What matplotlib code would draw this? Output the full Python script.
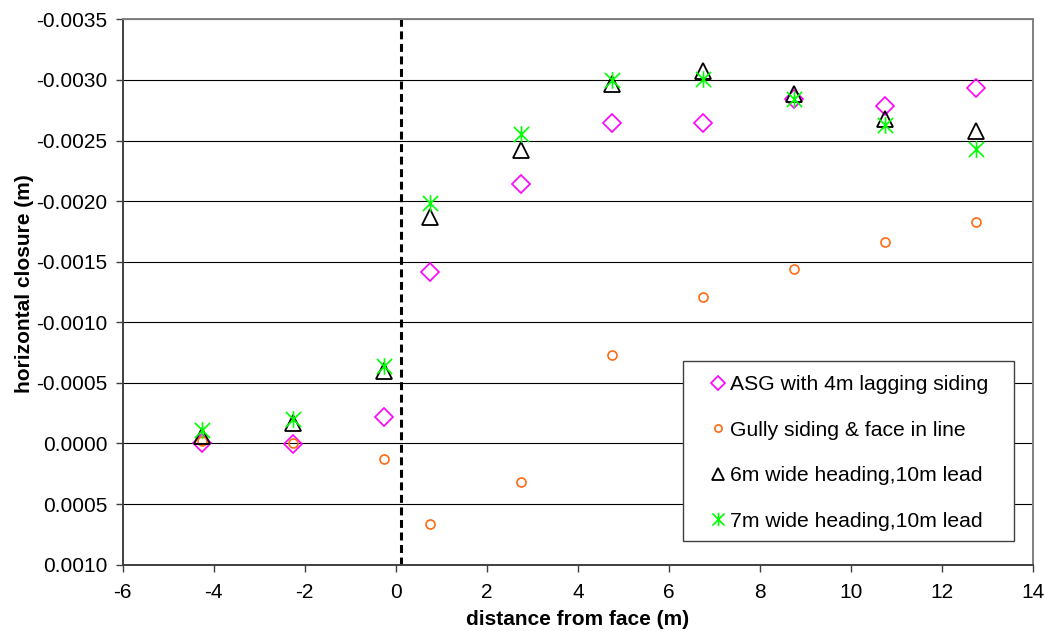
import numpy as np
import matplotlib
matplotlib.use("Agg")
import matplotlib.pyplot as plt
from matplotlib.path import Path
from matplotlib.patches import Rectangle

plt.rcParams['font.family'] = ['Liberation Sans', 'DejaVu Sans']

# distance from face (m) for every measuring station
distance = [-4.25, -2.25, -0.25, 0.75, 2.75, 4.75, 6.75, 8.75, 10.75, 12.75]

# horizontal closure (m) for each layout
asg_lagging = [0.0000, 0.000006, -0.00022, -0.001417, -0.002144,
               -0.002644, -0.002644, -0.00284, -0.002785, -0.00293]
gully_inline = [-0.00002, 0.0000, 0.000125, 0.000664, 0.000317,
                -0.000733, -0.001212, -0.001443, -0.00166, -0.001825]
wide6_lead10 = [-0.000065, -0.00017, -0.000596, -0.001868, -0.002424,
                -0.00297, -0.00307, -0.002887, -0.002675, -0.002578]
wide7_lead10 = [-0.000115, -0.000204, -0.000638, -0.001987, -0.00255,
                -0.002999, -0.003005, -0.00284, -0.002628, -0.002427]

series_labels = ["ASG with 4m lagging siding",
                 "Gully siding & face in line",
                 "6m wide heading,10m lead",
                 "7m wide heading,10m lead"]

face_position = 0.12

y_ticks = [-0.0035, -0.0030, -0.0025, -0.0020, -0.0015, -0.0010,
           -0.0005, 0.0000, 0.0005, 0.0010]
y_tick_labels = ["-0.0035", "-0.0030", "-0.0025", "-0.0020", "-0.0015",
                 "-0.0010", "-0.0005", "0.0000", "0.0005", "0.0010"]
x_ticks = [-6, -4, -2, 0, 2, 4, 6, 8, 10, 12, 14]

# asterisk-like marker: an X with a vertical stroke through it
star_path = Path(
    [(-1, -1), (1, 1), (-1, 1), (1, -1), (0, -1.1), (0, 1.1)],
    [Path.MOVETO, Path.LINETO, Path.MOVETO, Path.LINETO, Path.MOVETO, Path.LINETO],
)

fig = plt.figure(figsize=(10.45, 6.31), dpi=100)
ax = fig.add_axes([0.1174, 0.1051, 0.8714, 0.8643])

ax.set_xlim(-6, 14)
ax.set_ylim(0.0010, -0.0035)
ax.set_yticks(y_ticks)
ax.set_yticklabels(y_tick_labels)
ax.set_xticks(x_ticks)
ax.set_xticklabels([str(t) for t in x_ticks])

ax.yaxis.grid(True, color='black', linewidth=0.8)
ax.set_axisbelow(True)

ax.axvline(face_position, color='black', linewidth=2.2,
           linestyle=(0, (2.6, 1.5)), zorder=2)

ax.plot(distance, asg_lagging, linestyle='none', marker='D', markersize=9.2,
        markerfacecolor='none', markeredgecolor='#FF00FF', markeredgewidth=1.2,
        label=series_labels[0], zorder=3)
ax.plot(distance, gully_inline, linestyle='none', marker='o', markersize=6.5,
        markerfacecolor='none', markeredgecolor='#FF6A13', markeredgewidth=1.2,
        label=series_labels[1], zorder=3)
ax.plot(distance, wide6_lead10, linestyle='none', marker='^', markersize=11,
        markerfacecolor='none', markeredgecolor='black', markeredgewidth=1.3,
        label=series_labels[2], zorder=4)
ax.plot(distance, wide7_lead10, linestyle='none', marker=star_path, markersize=12,
        markerfacecolor='none', markeredgecolor='#00FF00', markeredgewidth=1.2,
        label=series_labels[3], zorder=5)

for side in ['top', 'right']:
    ax.spines[side].set_color('#808080')
    ax.spines[side].set_linewidth(1.4)
for side in ['left', 'bottom']:
    ax.spines[side].set_color('#404040')
    ax.spines[side].set_linewidth(1.4)

ax.tick_params(axis='both', direction='out', length=5, width=1,
               color='#404040', labelsize=15)
ax.tick_params(axis='x', pad=8.5)
ax.tick_params(axis='y', pad=6)

ax.set_xlabel("distance from face (m)", fontsize=15, fontweight='bold', labelpad=5.5)
ax.set_ylabel("horizontal closure (m)", fontsize=15, fontweight='bold')
ax.yaxis.set_label_coords(-0.097, 0.515)

# legend panel: white box with a dark border, entries placed inside it
legend_box = Rectangle((0.6153, 0.0435), 0.3635, 0.33, transform=ax.transAxes,
                       facecolor='white', edgecolor='#404040', linewidth=1.0,
                       zorder=6)
ax.add_patch(legend_box)

leg = ax.legend(loc='upper left', bbox_to_anchor=(0.6422, 0.3469),
                fontsize=15.2, frameon=False, numpoints=1,
                handlelength=1.0, handletextpad=0.05, borderpad=0,
                labelspacing=1.25, markerscale=0.8, borderaxespad=0)
leg.set_zorder(7)

fig.savefig("out.png", dpi=100)
